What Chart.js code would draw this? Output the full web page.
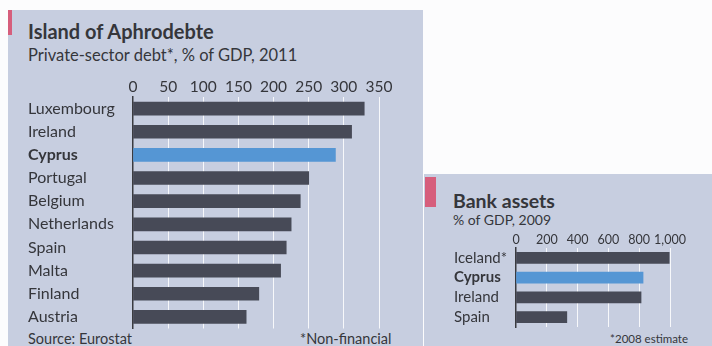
<!DOCTYPE html>
<html><head><meta charset="utf-8">
<script src="https://cdn.jsdelivr.net/npm/chart.js@4"></script>
<style>
html,body{margin:0;padding:0;background:#fcfcfd;}
body{width:712px;height:346px;position:relative;overflow:hidden;font-family:Lato, sans-serif;color:#35363b;}
.panel{position:absolute;background:#c7cee0;}
#p1{left:8px;top:10px;width:415px;height:336px;}
#p2{left:424px;top:174px;width:288px;height:172px;}
.mark{position:absolute;background:#d65e7c;}
.txt{position:absolute;white-space:nowrap;line-height:1;}
canvas{position:absolute;}
</style></head><body>
<div class="panel" id="p1"></div>
<div class="panel" id="p2"></div>
<div class="mark" style="left:8px;top:10px;width:4px;height:25px;"></div>
<div class="mark" style="left:425px;top:177px;width:11px;height:30px;"></div>
<div class="txt" style="left:28px;top:21px;font-size:20px;font-weight:bold;">Island of Aphrodebte</div>
<div class="txt" style="left:28px;top:47px;font-size:16.5px;">Private-sector debt*, % of GDP, 2011</div>
<div class="txt" style="left:28px;top:332px;font-size:14.5px;">Source: Eurostat</div>
<div class="txt" style="left:300px;top:332px;font-size:14.5px;">*Non-financial</div>
<div class="txt" style="left:453px;top:191px;font-size:19.5px;font-weight:bold;">Bank assets</div>
<div class="txt" style="left:453px;top:213px;font-size:14px;">% of GDP, 2009</div>
<div class="txt" style="right:24px;top:333px;font-size:11.5px;">*2008 estimate</div>
<canvas id="c1" width="422" height="346" style="left:0;top:0;"></canvas>
<canvas id="c2" width="289" height="170" style="left:423px;top:176px;"></canvas>
<script>
const debtCountries = ['Luxembourg','Ireland','Cyprus','Portugal','Belgium','Netherlands','Spain','Malta','Finland','Austria'];
const debtValues = [329, 311, 288, 250, 238, 225, 218, 210, 179, 161];
const debtTicks = [0, 50, 100, 150, 200, 250, 300, 350];

const bankCountries = ['Iceland*','Cyprus','Ireland','Spain'];
const bankValues = [995, 825, 812, 330];
const bankTicks = [0, 200, 400, 600, 800, 1000];

const DARK = '#474a57';
const BLUE = '#5596d4';
const TEXT = '#35363b';

function makeChart(id, labels, values, ticks, cfg) {
  return new Chart(document.getElementById(id), {
    type: 'bar',
    data: {
      labels: labels,
      datasets: [{
        data: values,
        backgroundColor: labels.map(l => l === 'Cyprus' ? BLUE : DARK),
        barThickness: cfg.bar,
        borderWidth: 0
      }]
    },
    options: {
      indexAxis: 'y',
      responsive: false,
      animation: false,
      devicePixelRatio: 1,
      layout: { padding: cfg.padding },
      plugins: { legend: { display: false }, tooltip: { enabled: false } },
      scales: {
        x: {
          position: 'top',
          min: 0,
          max: ticks[ticks.length - 1],
          afterBuildTicks: s => { s.ticks = ticks.map(v => ({ value: v })); },
          afterFit: s => { s.height = cfg.xHeight; },
          border: { display: false },
          grid: {
            drawTicks: false,
            color: ctx => (ctx.tick && ctx.tick.value === 0) ? 'rgba(0,0,0,0)' : 'rgba(255,255,255,0.85)',
            lineWidth: 1
          },
          ticks: {
            padding: 1,
            color: TEXT,
            maxRotation: 0,
            autoSkip: false,
            font: { family: 'Lato', size: cfg.tickSize },
            callback: v => Number(v).toLocaleString('en-US')
          }
        },
        y: {
          afterFit: s => { s.width = cfg.yWidth; },
          grid: { display: false, drawTicks: false },
          border: { display: true, color: '#3a3b40', width: 1.5 },
          ticks: {
            crossAlign: 'far',
            color: TEXT,
            autoSkip: false,
            font: ctx => ({ family: 'Lato', size: cfg.labelSize, weight: labels[ctx.index] === 'Cyprus' ? 'bold' : 'normal' })
          }
        }
      }
    }
  });
}

makeChart('c1', debtCountries, debtValues, debtTicks, {
  bar: 13, padding: { left: 28, right: 43, top: 0, bottom: 17.5 },
  xHeight: 97, yWidth: 105, tickSize: 15.5, labelSize: 16
});
makeChart('c2', bankCountries, bankValues, bankTicks, {
  bar: 11, padding: { left: 31, right: 42, top: 0, bottom: 19 },
  xHeight: 72, yWidth: 62, tickSize: 12.5, labelSize: 15
});
</script>
</body></html>
